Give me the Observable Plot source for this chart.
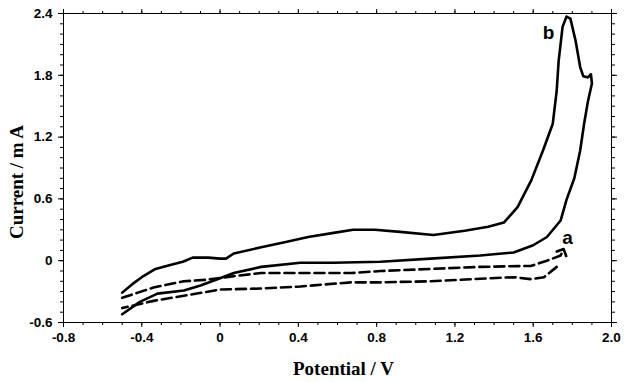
<!DOCTYPE html>
<html>
<head>
<meta charset="utf-8">
<script src="https://cdn.jsdelivr.net/npm/d3@7"></script>
<script src="https://cdn.jsdelivr.net/npm/@observablehq/plot@0.6"></script>
<style>
  html, body { margin: 0; padding: 0; background: white; }
  #chart { width: 631px; height: 382px; }
</style>
</head>
<body>
<div id="chart"></div>
<script>
// Curve b (solid): potential (V) and current (mA), traced in scan order
const bV = [-0.50,-0.45,-0.40,-0.33,-0.25,-0.19,-0.14,-0.06,0.00,0.03,0.07,0.21,0.33,0.45,0.58,0.68,0.79,0.92,1.09,1.25,1.37,1.45,1.52,1.59,1.65,1.70,1.72,1.73,1.75,1.77,1.79,1.816,1.84,1.856,1.88,1.895,1.90,1.88,1.86,1.84,1.81,1.77,1.74,1.67,1.60,1.50,1.33,1.075,0.82,0.58,0.41,0.21,0.07,0.00,-0.10,-0.185,-0.32,-0.41,-0.50];
const bI = [-0.31,-0.23,-0.16,-0.08,-0.04,-0.01,0.03,0.03,0.02,0.02,0.07,0.13,0.18,0.23,0.27,0.30,0.30,0.28,0.25,0.29,0.33,0.37,0.52,0.78,1.07,1.33,1.65,1.94,2.27,2.37,2.35,2.14,1.88,1.79,1.78,1.81,1.72,1.55,1.33,1.07,0.80,0.59,0.39,0.23,0.15,0.08,0.05,0.02,-0.01,-0.02,-0.02,-0.06,-0.12,-0.17,-0.24,-0.29,-0.32,-0.40,-0.52];

// Curve a (dashed): forward branch and return branch
const aFwdV = [-0.50,-0.42,-0.34,-0.185,-0.07,0.07,0.21,0.41,0.67,0.82,1.075,1.33,1.59,1.67,1.74,1.75];
const aFwdI = [-0.36,-0.31,-0.26,-0.20,-0.185,-0.15,-0.12,-0.12,-0.12,-0.10,-0.08,-0.06,-0.05,0.00,0.05,0.09];
const aRevV = [1.72,1.655,1.59,1.50,1.33,1.075,0.82,0.67,0.41,0.21,0.00,-0.185,-0.34,-0.50];
const aRevI = [-0.06,-0.16,-0.18,-0.16,-0.175,-0.20,-0.21,-0.21,-0.25,-0.27,-0.28,-0.34,-0.39,-0.46];

// Tick values and labels
const xTicks = [-0.8,-0.4,0,0.4,0.8,1.2,1.6,2.0];
const xTickLabels = ["-0.8","-0.4","0","0.4","0.8","1.2","1.6","2.0"];
const yTicks = [-0.6,0,0.6,1.2,1.8,2.4];
const yTickLabels = ["-0.6","0","0.6","1.2","1.8","2.4"];
const xMinor = d3.range(-8, 21).map(k => k / 10);
const yMinor = d3.range(-6, 25).map(k => k / 10);

// Curve labels
const curveLabels = ["b", "a"];
const curveLabelV = [1.678, 1.775];
const curveLabelI = [2.21, 0.225];

const bData = bV.map((v, k) => ({v, i: bI[k]}));
const aFwd = aFwdV.map((v, k) => ({v, i: aFwdI[k]}));
const aRev = aRevV.map((v, k) => ({v, i: aRevI[k]}));
const labelData = curveLabels.map((t, k) => ({t, v: curveLabelV[k], i: curveLabelI[k]}));

const lookup = (ticks, labels) => d => {
  const k = ticks.findIndex(t => Math.abs(t - d) < 1e-9);
  return k >= 0 ? labels[k] : "";
};
const blank = () => "";
const tickFont = {fontFamily: "'Liberation Sans', Arial, sans-serif", fontWeight: "bold", fontSize: 13.5};
const titleFont = {fontFamily: "'Liberation Serif', 'Times New Roman', serif", fontWeight: "bold", fontSize: 19, fill: "black", textAnchor: "middle", lineAnchor: "middle"};

const chart = Plot.plot({
  width: 631,
  height: 382,
  marginLeft: 63,
  marginRight: 20,
  marginTop: 13,
  marginBottom: 60,
  style: {background: "white", color: "black", fontFamily: "'Liberation Sans', Arial, sans-serif"},
  x: {domain: [-0.8, 2.0]},
  y: {domain: [-0.6, 2.4]},
  marks: [
    // minor ticks on all sides
    Plot.axisX({anchor: "bottom", ticks: xMinor, tickSize: 3, tickFormat: blank, label: null}),
    Plot.axisX({anchor: "top", ticks: xMinor, tickSize: 3, tickFormat: blank, label: null}),
    Plot.axisY({anchor: "left", ticks: yMinor, tickSize: 3, tickFormat: blank, label: null}),
    Plot.axisY({anchor: "right", ticks: yMinor, tickSize: 3, tickFormat: blank, label: null}),
    // major ticks
    Plot.axisX({anchor: "top", ticks: xTicks, tickSize: 5, tickFormat: blank, label: null}),
    Plot.axisY({anchor: "right", ticks: yTicks, tickSize: 5, tickFormat: blank, label: null}),
    Plot.axisX({anchor: "bottom", ticks: xTicks, tickSize: 5, tickPadding: 5, tickFormat: lookup(xTicks, xTickLabels), label: null, ...tickFont}),
    Plot.axisY({anchor: "left", ticks: yTicks, tickSize: 5, tickPadding: 6, tickFormat: lookup(yTicks, yTickLabels), label: null, ...tickFont}),
    Plot.frame({stroke: "black", strokeWidth: 1}),
    // curves
    Plot.line(bData, {x: "v", y: "i", stroke: "black", strokeWidth: 2.6, strokeLinejoin: "round", strokeLinecap: "round"}),
    Plot.line(aFwd, {x: "v", y: "i", stroke: "black", strokeWidth: 2.6, strokeDasharray: "10,5", markerEnd: "arrow"}),
    Plot.line(aRev, {x: "v", y: "i", stroke: "black", strokeWidth: 2.6, strokeDasharray: "10,5"}),
    // curve labels
    Plot.text(labelData, {x: "v", y: "i", text: "t", fontSize: 19, fontWeight: "bold", fontFamily: "'Liberation Sans', Arial, sans-serif", fill: "black"}),
    // axis titles
    Plot.text(["Potential / V"], {frameAnchor: "bottom", dx: 6, dy: 46, ...titleFont}),
    Plot.text(["Current / m A"], {frameAnchor: "left", rotate: -90, dx: -47, dy: 14, ...titleFont})
  ]
});
document.getElementById("chart").appendChild(chart);
</script>
</body>
</html>
